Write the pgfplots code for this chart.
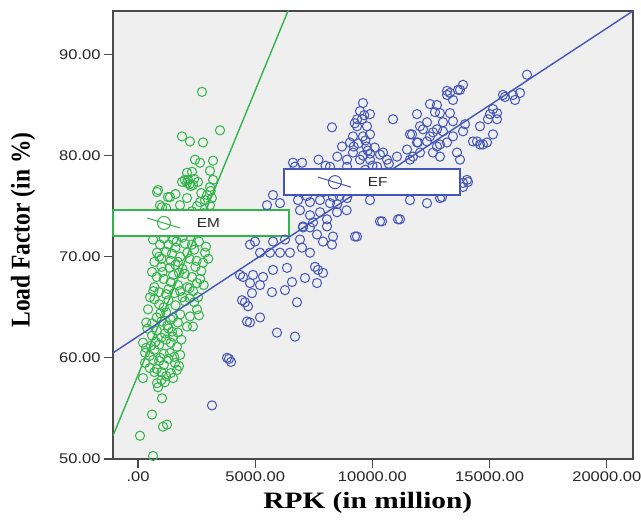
\documentclass[border=0pt]{standalone}
\usepackage{fontspec}
\setmainfont{Liberation Serif}
\newfontfamily\arial{Liberation Sans}
\usepackage{graphicx}
\usepackage{pgfplots}
\pgfplotsset{compat=1.18}
\definecolor{bgfill}{HTML}{EFEFEF}
\definecolor{frame}{HTML}{4A4A4A}
\definecolor{emgreen}{HTML}{33B44A}
\definecolor{efblue}{HTML}{4455B8}
\newcommand{\sx}[1]{\scalebox{1.18}[1]{#1}}

\pgfplotsset{
  spss/.style={
    scale only axis, width=520bp, height=448bp,
    at={(0bp,0bp)}, anchor=south west,
    xmin=-1067, xmax=21118, ymin=50, ymax=94.3,
    scaled x ticks=false, scaled y ticks=false,
  },
  fitbox/.style={
    legend style={anchor=south west, draw=none, fill=none, line width=0pt,
      inner sep=0pt, cells={anchor=center},
      nodes={inner sep=0pt, text depth=0pt, draw=none, fill=none,
        font=\arial\fontsize{13bp}{15bp}\selectfont, text=black!85}},
  },
  % fit-line label: white box, circle crossed by the line
  fitimage/.style={
    legend image code/.code={
      \fill[overlay, white] (0bp,-13bp) rectangle (176bp,13bp);
      \draw[overlay, #1, line width=1.4bp] (0bp,-13bp) -- (176bp,-13bp) -- (176bp,13bp) -- (0bp,13bp) -- cycle;
      \path[draw=none, fill=none] (0bp,-13bp) rectangle (84bp,13bp);
      \draw[#1, line width=1bp] (51bp,0bp) circle[radius=6.5bp];
      \draw[#1, line width=1bp] (34bp,5bp) -- (67bp,-5bp);
    },
  },
}

\begin{document}
\begin{tikzpicture}
% EM group (green) with the frame, ticks and labels
\begin{axis}[spss,
  axis background/.style={fill=bgfill},
  axis line style={draw=frame, line width=1.3bp},
  tick align=outside, tick pos=left,
  major tick length=9bp,
  every tick/.style={draw=frame, line width=1.2bp},
  xtick={0,5000,10000,15000,20000},
  xticklabels={\sx{.00},\sx{5000.00},\sx{10000.00},\sx{15000.00},\sx{20000.00}},
  ytick={50,60,70,80,90},
  yticklabels={\sx{50.00},\sx{60.00},\sx{70.00},\sx{80.00},\sx{90.00}},
  tick label style={font=\arial\fontsize{14bp}{17bp}\selectfont, text=black!85},
  xlabel={\scalebox{1.25}[1]{RPK (in million)}},
  ylabel={\scalebox{1}[1.15]{Load Factor (in \%)}},
  label style={font=\bfseries\fontsize{23.5bp}{28bp}\selectfont},
  xlabel style={at={(axis description cs:0.49,-0.098)}, anchor=center},
  ylabel style={at={(axis description cs:-0.173,0.511)}, anchor=center},
  fitbox,
  legend style={at={(0,0.4978)}},
]
\addplot[only marks, mark=o, mark size=4.6bp, color=emgreen,
  mark options={line width=1bp}, fitimage=emgreen] coordinates {
  (640,50.3) (85,52.3) (597,54.4) (1066,53.2) (1237,53.4) (1024,56.0) (853,57.1) (810,57.5)
  (213,58.0) (1000,57.8) (1200,58.2) (1400,58.5) (1664,58.8) (1578,59.5) (500,59.0) (700,58.6)
  (1100,59.3) (900,59.7) (1300,59.9) (300,59.5) (1500,58.0) (1750,59.2) (1000,58.6) (800,58.9)
  (299,60.5) (213,61.5) (1365,60.5) (1664,61.1) (1493,62.1) (500,60.2) (700,60.8) (900,61.3)
  (1100,60.4) (1200,61.8) (600,62.2) (800,62.7) (1000,62.0) (400,62.9) (1800,60.3) (1700,62.5)
  (1300,62.9) (1550,60.1) (950,60.0) (350,61.0) (1150,62.4) (750,61.6) (1400,61.5) (550,61.2)
  (2090,63.1) (2346,63.1) (2517,64.8) (2218,64.1) (427,64.8) (512,66.0) (600,63.4) (800,64.0)
  (1000,63.6) (1200,64.5) (1400,63.8) (1600,65.2) (1800,64.3) (2000,65.6) (900,65.3) (700,65.8)
  (1100,65.0) (1300,65.7) (1500,64.0) (1700,63.5) (2400,65.5) (2600,64.2) (350,63.5) (1900,66.0)
  (2200,65.9) (1250,63.2) (950,64.4) (1450,62.6) (1850,61.8) (650,59.8) (1150,57.6)
  (2560,66.0) (2517,67.4) (597,68.5) (700,67.0) (900,66.5) (1100,67.8) (1300,66.8) (1500,68.2)
  (1700,67.2) (1900,68.8) (2100,67.0) (2300,68.0) (2700,68.6) (800,68.0) (1000,69.0) (1200,66.3)
  (1400,67.5) (1600,69.2) (1800,66.6) (2000,68.3) (2200,66.9) (2450,69.0) (650,66.6) (1050,68.5)
  (2800,67.2) (1350,68.9) (1550,66.4) (1750,68.4) (2350,66.6) (2650,67.8)
  (2773,69.4) (2858,70.4) (640,71.7) (938,71.2) (810,70.4) (1000,69.8) (1200,70.5) (1400,69.6)
  (1600,70.9) (1800,70.0) (2000,71.3) (2200,69.8) (2400,70.7) (2600,71.5) (1100,71.8) (1300,71.2)
  (1500,71.7) (1700,69.5) (1900,71.9) (2100,70.4) (2500,69.6) (700,69.5) (900,70.0) (2900,71.0)
  (3000,69.8) (1650,71.5) (1450,70.3) (2300,71.2)
  (1000,72.5) (1500,73.0) (2000,73.5) (2500,72.8) (1200,74.0) (1800,74.2) (2800,74.3) (3000,73.2)
  (700,73.8) (2300,74.5)
  (853,76.6) (1365,75.9) (2090,75.8) (1024,74.9) (1792,75.1) (2858,75.6) (3072,75.1) (2944,76.1)
  (2517,75.0) (810,76.4) (1280,75.9) (938,75.1) (2645,75.4) (1877,77.4) (2090,77.3) (2346,77.1)
  (2133,77.6) (2560,77.4) (3200,77.6) (3072,76.9) (2200,77.2) (2000,77.6) (2400,77.7) (2250,77.0)
  (2090,78.3) (2304,78.4) (3072,78.5) (3150,75.8) (3100,76.5) (1600,76.2) (1200,74.8) (2700,76.3)
  (2432,79.6) (2645,79.3) (3200,79.5) (1877,81.9) (2218,81.4) (2773,81.3) (3498,82.5) (2730,86.3)
};
\addlegendentry{\makebox[92bp][l]{\sx{EM}}}
\addplot[emgreen, line width=1.4bp, forget plot] coordinates {(-1067,52.3) (6500,94.87)};
\end{axis}

% EF group (blue)
\begin{axis}[spss, hide axis,
  fitbox,
  legend style={at={(0.3288,0.589)}},
]
\addplot[only marks, mark=o, mark size=4.6bp, color=efblue,
  mark options={line width=1bp}, fitimage=efblue] coordinates {
  (3157,55.3) (3797,60.0) (3967,59.6) (3880,59.9) (4650,63.6) (4351,68.2)
  (4778,63.5) (5205,64.0) (5930,62.5) (6698,62.1) (4565,65.5) (4693,65.1) (4863,66.4) (5716,66.5)
  (6271,66.7) (6783,65.5) (6570,67.5) (7124,67.9) (7636,67.4) (7679,68.7) (7892,68.4) (7551,69.0)
  (6356,68.9) (5759,68.7) (5333,68.0) (5205,67.2) (4479,68.0) (4906,68.2) (4778,67.4) (4437,65.7)
  (5631,70.4) (5205,70.4) (6058,70.4) (6484,70.4) (4778,71.2) (4991,71.5) (5759,71.5) (6271,71.7)
  (6911,71.7) (6996,70.9) (7337,70.4) (7892,71.5) (8276,71.2) (8319,72.0) (7636,72.2) (7337,72.9)
  (7039,72.9) (8063,73.0) (9257,72.0)
  (6698,78.9) (5759,76.1) (5503,75.1) (6058,75.3) (6826,75.6) (7337,75.4) (7764,75.6) (6911,74.6)
  (7337,74.1) (7764,74.4) (8191,75.3) (8489,74.4) (7466,73.4) (7039,73.0) (8063,73.7) (10324,73.5)
  (11092,73.7) (9342,72.0) (8319,75.9) (8703,76.6) (8916,75.8) (9897,75.6) (8191,78.9) (8916,78.9)
  (6613,79.3) (7000,79.3) (7700,79.6) (8500,79.9) (8000,79.0)
  (9598,85.2) (9471,84.4) (9897,84.1) (9556,83.6) (9342,82.9) (9769,82.9) (9172,81.9) (9598,81.9)
  (9044,81.3) (9897,82.1) (8276,82.8) (8703,80.9) (10879,83.6) (10324,80.1) (9172,80.3) (9471,79.6)
  (8916,79.6) (9897,79.6) (10622,79.6) (11902,84.1) (12456,85.1) (12670,84.3) (13182,86.4)
  (12030,82.9) (12456,81.9) (12755,82.6) (11603,82.1) (11945,81.3) (11476,80.6) (12030,80.3)
  (12584,80.3) (11603,79.6) (11049,79.9) (12883,81.1)
  (13865,87.0) (13652,86.5) (13438,85.5) (13182,86.0) (12755,85.0) (12883,84.2) (13310,84.2)
  (13011,83.3) (13438,83.4) (12329,83.3) (12158,82.6) (12584,82.3) (13011,82.4) (13438,81.9)
  (13865,82.4) (11689,82.1) (11902,81.3) (12329,81.4) (12755,80.9) (13182,81.3) (11732,79.9)
  (12883,79.9) (13609,80.3) (13737,79.6) (14035,77.6) (13865,76.9) (11603,75.6) (12329,75.3)
  (12883,75.8) (10452,80.3) (14590,82.9) (14462,81.4) (14889,81.3) (15145,82.1) (15017,84.1)
  (15315,84.2) (15315,83.6) (15571,86.0) (15997,86.0) (16297,86.2) (16083,85.5)
  (16595,88.0) (15656,85.8) (15145,84.6) (14932,83.6) (14718,81.1) (14291,81.4) (13950,83.1)
  (13310,86.2) (13737,86.5) (12969,75.9) (13865,77.3) (14078,77.4) (11177,73.7) (10409,73.5)
  (14590,81.1) (10700,79.2) (10200,78.9)
  (9100,77.0) (9300,77.8) (9500,78.3) (9700,78.6) (9800,80.5) (9200,80.9) (9400,81.2) (9700,81.5)
  (9000,78.2) (8800,77.3) (8600,76.0) (9500,76.5) (10000,79.0) (10100,80.8) (9900,80.2) (9600,80.0)
  (9350,83.6) (9650,84.0) (9250,83.2) (9750,80.9) (8500,75.2) (8900,74.6) (7900,76.4) (7200,76.0)
};
\addlegendentry{\makebox[92bp][l]{\sx{EF}}}
\addplot[efblue, line width=1.4bp, forget plot] coordinates {(-1067,60.5) (21118,94.3)};
\end{axis}
\pgfresetboundingbox
\path[use as bounding box] (-113bp,-63bp) rectangle (528bp,459bp);
\end{tikzpicture}
\end{document}
